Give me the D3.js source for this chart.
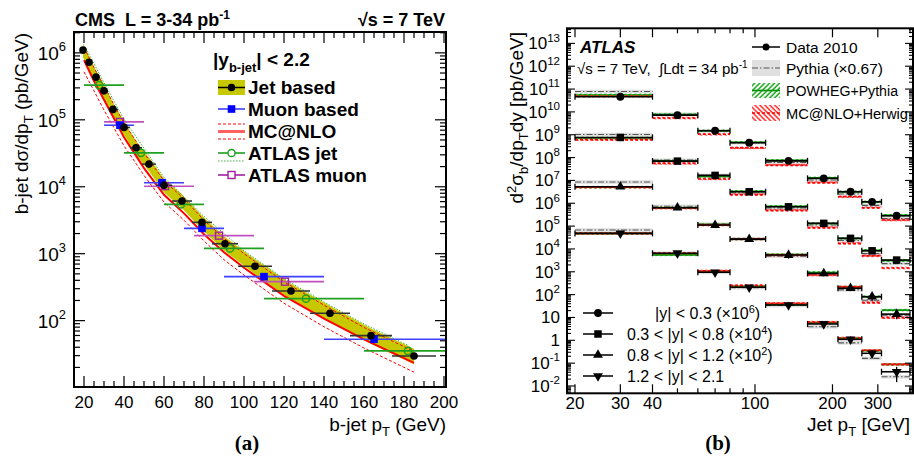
<!DOCTYPE html>
<html><head><meta charset="utf-8">
<script src="https://cdn.jsdelivr.net/npm/d3@7"></script>
<style>body{margin:0;background:#fff}svg{display:block}text{font-family:"Liberation Sans",Arial,sans-serif;fill:#000;white-space:pre}</style>
</head><body><svg id="c" width="914" height="457"></svg>
<script>
// ---------------- Panel (a) data ----------------
const jetPt  = [19.5,22.5,26,30,34.5,40,46,52.5,60,69,79,90.5,105.5,123.5,143,163.5,185];
const jetLo  = [18,21,24,28,32,37,43,49,56,64,74,84,97,114,133,153,174];
const jetHi  = [21,24,28,32,37,43,49,56,64,74,84,97,114,133,153,174,196];
const jetVal = [1.1e6,7.26e5,4.34e5,2.71e5,1.43e5,7.7e4,3.82e4,2.18e4,1.05e4,6.12e3,2.94e3,1.41e3,649,277,129,59.7,29.7];
const jetSysUp = [1.25,1.25,1.25,1.25,1.25,1.25,1.25,1.25,1.25,1.25,1.25,1.26,1.27,1.28,1.28,1.28,1.28];
const jetSysDn = [0.78,0.78,0.78,0.78,0.78,0.78,0.78,0.78,0.78,0.78,0.78,0.77,0.76,0.75,0.75,0.75,0.75];

const muPt  = [38,59,79,110,165];
const muLo  = [30,50,70,90,140];
const muHi  = [45,70,90,140,260];
const muVal = [8.3e4,1.15e4,2.39e3,454,52.7];

const atjPt  = [27.5,48.5,68.5,93,131,182];
const atjLo  = [20,40,60,80,110,160];
const atjHi  = [40,60,80,110,160,210];
const atjVal = [3.3e5,3.21e4,5.46e3,1.2e3,213,35.3];
const atjDotPt  = [21,30,40,60,80,100,120,140,160,182];
const atjDotVal = [1.17e6,3.57e5,1.02e5,1.38e4,3.6e3,1.11e3,421,190,89,42.7];

const atmPt  = [38,60.5,87.5,120.5];
const atmLo  = [30,50,75,105];
const atmHi  = [50,75,105,140];
const atmVal = [9.3e4,1.02e4,1.86e3,382];

const mcPt      = [20,25,30,40,50,60,70,80,90,100,120,140,160,185];
const mcCentral = [7.8e5,3.8e5,2.0e5,5.5e4,1.9e4,7.6e3,4.0e3,1.95e3,1.05e3,617,234,107,52.5,23.4];
const mcUp      = [1.2e6,6.0e5,3.2e5,8.9e4,3.2e4,1.23e4,6.6e3,3.16e3,1.7e3,1.0e3,380,170,79,34.7];
const mcDn      = [5.2e5,2.7e5,1.4e5,4.1e4,1.48e4,5.9e3,3.16e3,1.55e3,813,479,182,81,39,17];

const xTicksA = [20,40,60,80,100,120,140,160,180,200];
const yTicksA = [2,3,4,5,6];

// ---------------- Panel (b) data ----------------
const bEdges   = [20,40,60,80,110,160,210,260,310,400];
const bCenters = [30,50,70,95,135,185,235,285,355];
const serY1 = [4.6e10,7.2e9,1.49e9,4.45e8,7.2e7,1.23e7,3.19e6,1.16e6,2.84e5];
const serY2 = [7.6e8,7.0e7,1.66e7,3.19e6,7.0e5,1.32e5,2.91e4,8.3e3,3.26e3];
const serY3 = [5.3e6,6.4e5,1.11e5,2.7e4,5.4e3,850,190,81,14];
const serY4 = [4.8e4,6.5e3,950,210,35,5.2,1.1,0.27,0.042];
const errY1 = [0.12,0.12,0.12,0.12,0.12,0.15,0.18,0.2,0.2];
const errY2 = [0.12,0.12,0.12,0.12,0.15,0.2,0.2,0.25,0.25];
const errY3 = [0.15,0.15,0.15,0.15,0.3,0.25,0.25,0.35,0.4];
const errY4 = [0.3,0.2,0.15,0.15,0.3,0.3,0.35,0.4,0.65];
const pyR1 = [1.7,1.1,1.0,1.0,0.85,0.85,0.8,0.7,0.75];
const pyR2 = [1.35,1.1,1.0,0.9,0.9,0.85,0.8,0.75,0.7];
const pyR3 = [1.6,1.15,1.1,1.0,0.9,0.9,0.85,0.7,0.9];
const pyR4 = [1.4,1.0,1.0,0.95,0.95,0.75,0.7,0.6,0.6];
const pwR1 = [1.2,1.05,1.0,1.05,1.05,1.05,1.0,1.0,1.05];
const pwR2 = [0.95,1.0,0.9,1.05,1.05,1.0,1.0,1.05,0.95];
const pwR3 = [0.95,1.0,1.05,1.0,1.05,1.1,1.15,1.0,1.5];
const pwR4 = [1.0,0.85,1.05,1.1,1.1,1.15,1.1,1.3,2.1];
const mcR1 = [1.05,0.75,0.7,0.6,0.65,0.65,0.6,0.55,0.65];
const mcR2 = [0.8,0.8,0.7,0.75,0.7,0.65,0.6,0.6,0.45];
const mcR3 = [0.95,0.95,1.0,1.0,1.0,0.85,1.15,0.55,0.7];
const mcR4 = [1.0,1.0,1.15,1.2,1.2,1.2,1.15,1.35,2.1];
const seriesLabels = [["|y| < 0.3 (×10","6",")"],["0.3 < |y| < 0.8 (×10","4",")"],["0.8 < |y| < 1.2 (×10","2",")"],["1.2 < |y| < 2.1","",""]];
const xTicksB = [20,30,40,50,60,70,80,90,100,200,300,400];
const xLabelsB = [20,30,40,100,200,300];

// ---------------- drawing ----------------
const svg = d3.select("#c");
const defs = svg.append("defs");
function hatch(id,color,angle){
  const p = defs.append("pattern").attr("id",id).attr("patternUnits","userSpaceOnUse")
    .attr("width",3.5).attr("height",3.5).attr("patternTransform",`rotate(${angle})`);
  p.append("line").attr("x1",1).attr("y1",0).attr("x2",1).attr("y2",3.5).attr("stroke",color).attr("stroke-width",1.4);
}
hatch("hG","#10a010",45); hatch("hR","#ff2020",-45);
defs.append("clipPath").attr("id","clipA").append("rect").attr("x",74).attr("y",32).attr("width",372).attr("height",355);
defs.append("clipPath").attr("id","clipB").append("rect").attr("x",567).attr("y",28).attr("width",346).attr("height",365);

function pow10(g,x,y,k,fs,anchor){
  const t = g.append("text").attr("x",x).attr("y",y).attr("text-anchor",anchor||"end").attr("font-size",fs);
  t.append("tspan").text("10");
  t.append("tspan").attr("dy",-fs*0.45).attr("font-size",fs*0.68).text(k);
  return t;
}
function line(g,x1,y1,x2,y2,stroke,w,dash){
  const l = g.append("line").attr("x1",x1).attr("y1",y1).attr("x2",x2).attr("y2",y2)
    .attr("stroke",stroke).attr("stroke-width",w||1);
  if(dash) l.attr("stroke-dasharray",dash);
  return l;
}

// ===== Panel A =====
const xA = d3.scaleLinear().domain([15,201]).range([74,446]);
const yA = d3.scaleLog().domain([10.2,2.05e6]).range([387,32]);
const gA = svg.append("g").attr("clip-path","url(#clipA)");

const bandA = d3.area().x(i=>xA(jetPt[i])).y0(i=>yA(jetVal[i]*jetSysDn[i])).y1(i=>yA(jetVal[i]*jetSysUp[i]));
gA.append("path").attr("d",bandA(d3.range(jetPt.length))).attr("fill","#c8c800");

const lineMC = arr => d3.line().x(i=>xA(mcPt[i])).y(i=>yA(arr[i]))(d3.range(mcPt.length));
gA.append("path").attr("d",lineMC(mcUp)).attr("fill","none").attr("stroke","#ff0000").attr("stroke-width",1).attr("stroke-dasharray","3,2");
gA.append("path").attr("d",lineMC(mcDn)).attr("fill","none").attr("stroke","#ff0000").attr("stroke-width",1).attr("stroke-dasharray","3,2");
gA.append("path").attr("d",lineMC(mcCentral)).attr("fill","none").attr("stroke","#ff0000").attr("stroke-width",2);

gA.append("path").attr("d",d3.line().x(i=>xA(atjDotPt[i])).y(i=>yA(atjDotVal[i]))(d3.range(atjDotPt.length)))
  .attr("fill","none").attr("stroke","#40b040").attr("stroke-width",1).attr("stroke-dasharray","1.5,1.5");

atjPt.forEach((p,i)=>{ line(gA,xA(atjLo[i]),yA(atjVal[i]),xA(atjHi[i]),yA(atjVal[i]),"#20a020",1.6); });
atmPt.forEach((p,i)=>{ line(gA,xA(atmLo[i]),yA(atmVal[i]),xA(atmHi[i]),yA(atmVal[i]),"#c050c0",1.6); });
muPt.forEach((p,i)=>{ line(gA,xA(muLo[i]),yA(muVal[i]),xA(muHi[i]),yA(muVal[i]),"#4040ff",1.6); });
jetPt.forEach((p,i)=>{ line(gA,xA(jetLo[i]),yA(jetVal[i]),xA(jetHi[i]),yA(jetVal[i]),"#333",1.6); });
atjPt.forEach((p,i)=>{ gA.append("circle").attr("cx",xA(p)).attr("cy",yA(atjVal[i])).attr("r",3.6).attr("fill","none").attr("stroke","#20a020").attr("stroke-width",1.5); });
atmPt.forEach((p,i)=>{ gA.append("rect").attr("x",xA(p)-3.5).attr("y",yA(atmVal[i])-3.5).attr("width",7).attr("height",7).attr("fill","none").attr("stroke","#a020a0").attr("stroke-width",1.4); });
muPt.forEach((p,i)=>{ gA.append("rect").attr("x",xA(p)-3.8).attr("y",yA(muVal[i])-3.8).attr("width",7.6).attr("height",7.6).attr("fill","#0000ff"); });
jetPt.forEach((p,i)=>{ gA.append("circle").attr("cx",xA(p)).attr("cy",yA(jetVal[i])).attr("r",3.8).attr("fill","#000"); });

const axA = svg.append("g");
for(let v=20; v<=200; v+=5){
  const L = v%20===0 ? 11 : 6;
  line(axA,xA(v),387,xA(v),387-L,"#000",1.2);
  line(axA,xA(v),32,xA(v),32+L,"#000",1.2);
}
for(let k=1;k<=6;k++){
  for(let m=1;m<=9;m++){
    const v = m*Math.pow(10,k);
    if(v<10.2||v>2.05e6) continue;
    const L = m===1?11:6;
    line(axA,74,yA(v),74+L,yA(v),"#000",1.2);
    line(axA,446,yA(v),446-L,yA(v),"#000",1.2);
  }
}
axA.append("rect").attr("x",74).attr("y",32).attr("width",372).attr("height",355).attr("fill","none").attr("stroke","#000").attr("stroke-width",2);
xTicksA.forEach(v=>{ axA.append("text").attr("x",xA(v)).attr("y",408).attr("text-anchor","middle").attr("font-size",17).text(v); });
yTicksA.forEach(k=>{ pow10(axA,66,yA(Math.pow(10,k))+7,k,19,"end"); });

svg.append("text").attr("x",75).attr("y",26).attr("font-size",18).attr("font-weight","bold")
  .call(t=>{ t.append("tspan").text("CMS  L = 3-34 pb"); t.append("tspan").attr("dy",-7).attr("font-size",12).text("-1"); });
svg.append("text").attr("x",445).attr("y",26).attr("font-size",18).attr("font-weight","bold").attr("text-anchor","end").text("√s = 7 TeV");
svg.append("text").attr("transform","translate(28,33) rotate(-90)").attr("text-anchor","end").attr("font-size",19)
  .call(t=>{ t.append("tspan").text("b-jet dσ/dp"); t.append("tspan").attr("dy",5).attr("font-size",13).text("T"); t.append("tspan").attr("dy",-5).text(" (pb/GeV)"); });
svg.append("text").attr("x",446).attr("y",431).attr("text-anchor","end").attr("font-size",19)
  .call(t=>{ t.append("tspan").text("b-jet p"); t.append("tspan").attr("dy",5).attr("font-size",13).text("T"); t.append("tspan").attr("dy",-5).text(" (GeV)"); });
svg.append("text").attr("x",247).attr("y",450).attr("text-anchor","middle").attr("font-size",21).attr("font-weight","bold")
  .style("font-family","'Liberation Serif','Times New Roman',serif").text("(a)");

const lgA = svg.append("g");
lgA.append("text").attr("x",213).attr("y",66).attr("font-size",19).attr("font-weight","bold")
  .call(t=>{ t.append("tspan").text("|y"); t.append("tspan").attr("dy",6).attr("font-size",13).text("b-jet"); t.append("tspan").attr("dy",-6).text("| < 2.2"); });
const lgRows = [["Jet based",87],["Muon based",109],["MC@NLO",131],["ATLAS jet",153],["ATLAS muon",175]];
lgRows.forEach(r=>{ lgA.append("text").attr("x",248).attr("y",r[1]+7).attr("font-size",19).attr("font-weight","bold").text(r[0]); });
lgA.append("rect").attr("x",218).attr("y",80).attr("width",27).attr("height",15).attr("fill","#c8c800");
line(lgA,218,87.5,245,87.5,"#000",1.5); lgA.append("circle").attr("cx",231.5).attr("cy",87.5).attr("r",3.8).attr("fill","#000");
line(lgA,218,109,245,109,"#4040ff",1.6); lgA.append("rect").attr("x",227.7).attr("y",105.2).attr("width",7.6).attr("height",7.6).attr("fill","#0000ff");
line(lgA,218,124,245,124,"#ff0000",1,"3,2"); line(lgA,218,131.5,245,131.5,"#ff6060",3); line(lgA,218,139,245,139,"#ff0000",1,"3,2");
line(lgA,218,153,245,153,"#20a020",1.6); lgA.append("circle").attr("cx",231.5).attr("cy",153).attr("r",3.6).attr("fill","#fff").attr("stroke","#20a020").attr("stroke-width",1.5);
line(lgA,218,161,245,161,"#40b040",1,"1.5,1.5");
line(lgA,218,175,245,175,"#a020a0",1.6); lgA.append("rect").attr("x",228).attr("y",171.5).attr("width",7).attr("height",7).attr("fill","#fff").attr("stroke","#a020a0").attr("stroke-width",1.4);

// ===== Panel B =====
const xB = d3.scaleLog().domain([18.62,410.9]).range([567,913]);
const yB = d3.scaleLog().domain([Math.pow(10,-2.32),Math.pow(10,13.66)]).range([393.3,28.3]);
const gB = svg.append("g").attr("clip-path","url(#clipB)");
const series = [serY1,serY2,serY3,serY4];
const errs = [errY1,errY2,errY3,errY4];
const pyR = [pyR1,pyR2,pyR3,pyR4], pwR=[pwR1,pwR2,pwR3,pwR4], mcR=[mcR1,mcR2,mcR3,mcR4];
const symTypes = [d3.symbolCircle,d3.symbolSquare,d3.symbolTriangle,d3.symbolTriangle];
const symSizes = [48,56,42,42];
function marker(g,s,x,y){
  return g.append("path").attr("d",d3.symbol().type(symTypes[s]).size(symSizes[s])())
    .attr("transform",`translate(${x},${y})`+(s===3?" rotate(180)":"")).attr("fill","#000");
}
series.forEach((ser,s)=>{
  ser.forEach((v,i)=>{
    const x0 = xB(bEdges[i]), x1 = xB(bEdges[i+1]);
    const p = v*pyR[s][i], w = v*pwR[s][i], m = v*mcR[s][i];
    gB.append("rect").attr("x",x0).attr("width",x1-x0).attr("y",yB(p*1.2)).attr("height",yB(p/1.2)-yB(p*1.2)).attr("fill","#e0e0e0");
    line(gB,x0,yB(p),x1,yB(p),"#555",1.1,"6,2,1.5,2");
    gB.append("rect").attr("x",x0).attr("width",x1-x0).attr("y",yB(w*1.14)).attr("height",yB(w/1.14)-yB(w*1.14)).attr("fill","url(#hG)");
    line(gB,x0,yB(w),x1,yB(w),"#009000",1.6);
    gB.append("rect").attr("x",x0).attr("width",x1-x0).attr("y",yB(m*1.14)).attr("height",yB(m/1.14)-yB(m*1.14)).attr("fill","url(#hR)");
    line(gB,x0,yB(m),x1,yB(m),"#ff0000",1.6,"3,2");
  });
});
series.forEach((ser,s)=>{
  ser.forEach((v,i)=>{
    const x0 = xB(bEdges[i]), x1 = xB(bEdges[i+1]), y = yB(v), xc = xB(bCenters[i]);
    line(gB,x0,y,x1,y,"#000",1.6);
    line(gB,x0,y-3,x0,y+3,"#000",1.3); line(gB,x1,y-3,x1,y+3,"#000",1.3);
    line(gB,xc,yB(v*(1+errs[s][i])),xc,yB(v*Math.max(0.05,1-errs[s][i])),"#000",1.3);
    marker(gB,s,xc,y);
  });
});

const axB = svg.append("g");
xTicksB.forEach(v=>{
  const L = xLabelsB.includes(v)?9:5;
  line(axB,xB(v),393.3,xB(v),393.3-L,"#000",1.2);
  line(axB,xB(v),28.3,xB(v),28.3+L,"#000",1.2);
});
for(let k=-3;k<=13;k++){
  for(let mm=1;mm<=9;mm++){
    const v = mm*Math.pow(10,k);
    const yy = yB(v);
    if(yy<28.3||yy>393.3) continue;
    const L = mm===1?8:4;
    line(axB,567,yy,567+L,yy,"#000",1.1);
    line(axB,913,yy,913-L,yy,"#000",1.1);
  }
}
axB.append("rect").attr("x",567).attr("y",28.3).attr("width",346).attr("height",365).attr("fill","none").attr("stroke","#000").attr("stroke-width",2);
xLabelsB.forEach(v=>{ axB.append("text").attr("x",xB(v)).attr("y",409).attr("text-anchor","middle").attr("font-size",17).text(v); });
for(let k=-2;k<=13;k++){
  const yy = yB(Math.pow(10,k))+6;
  if(k===0) axB.append("text").attr("x",560).attr("y",yy).attr("text-anchor","end").attr("font-size",17).text("1");
  else if(k===1) axB.append("text").attr("x",560).attr("y",yy).attr("text-anchor","end").attr("font-size",17).text("10");
  else pow10(axB,560,yy,k,17,"end");
}

svg.append("text").attr("x",580).attr("y",53).attr("font-size",17).attr("font-weight","bold").attr("font-style","italic").text("ATLAS");
svg.append("text").attr("x",577).attr("y",74).attr("font-size",15)
  .call(t=>{ t.append("tspan").text("√s = 7 TeV,  ∫Ldt = 34 pb"); t.append("tspan").attr("dy",-6).attr("font-size",10).text("-1"); });
svg.append("text").attr("transform","translate(523,32) rotate(-90)").attr("text-anchor","end").attr("font-size",19)
  .call(t=>{ t.append("tspan").text("d"); t.append("tspan").attr("dy",-7).attr("font-size",13).text("2");
    t.append("tspan").attr("dy",7).text("σ"); t.append("tspan").attr("dy",5).attr("font-size",13).text("b");
    t.append("tspan").attr("dy",-5).text("/dp"); t.append("tspan").attr("dy",5).attr("font-size",13).text("T");
    t.append("tspan").attr("dy",-5).text("dy [pb/GeV]"); });
svg.append("text").attr("x",807).attr("y",431).attr("font-size",19)
  .call(t=>{ t.append("tspan").text("Jet p"); t.append("tspan").attr("dy",5).attr("font-size",13).text("T"); t.append("tspan").attr("dy",-5).text(" [GeV]"); });
svg.append("text").attr("x",718).attr("y",450).attr("text-anchor","middle").attr("font-size",21).attr("font-weight","bold")
  .style("font-family","'Liberation Serif','Times New Roman',serif").text("(b)");

const lgB = svg.append("g");
[["Data 2010",47,0],["Pythia (×0.67)",68,0],["POWHEG+Pythia",90,112],["MC@NLO+Herwig",113,122]].forEach(r=>{
  const t = lgB.append("text").attr("x",786).attr("y",r[1]+6).attr("font-size",15.5).text(r[0]);
  if(r[2]) t.attr("textLength",r[2]).attr("lengthAdjust","spacingAndGlyphs"); });
line(lgB,752,47,780,47,"#000",1.5); lgB.append("circle").attr("cx",766).attr("cy",47).attr("r",3.5).attr("fill","#000");
lgB.append("rect").attr("x",752).attr("y",60).attr("width",28).attr("height",16).attr("fill","#e0e0e0");
line(lgB,752,68,780,68,"#555",1.2,"6,2,1.5,2");
lgB.append("rect").attr("x",752).attr("y",83).attr("width",28).attr("height",15).attr("fill","url(#hG)");
line(lgB,752,90.5,780,90.5,"#009000",1.6);
lgB.append("rect").attr("x",752).attr("y",105).attr("width",28).attr("height",16).attr("fill","url(#hR)");
line(lgB,752,113,780,113,"#ff0000",1.6,"3,2");

const rowsY = [313,334,355,376];
seriesLabels.forEach((lab,s)=>{
  const y = rowsY[s];
  line(lgB,583,y,613,y,"#000",1.5);
  marker(lgB,s,598,y);
  const t = lgB.append("text").attr("x",s===0?655:627).attr("y",y+6).attr("font-size",16);
  t.append("tspan").text(lab[0]);
  if(lab[1]){ t.append("tspan").attr("dy",-6).attr("font-size",11).text(lab[1]); t.append("tspan").attr("dy",6).text(lab[2]); }
});
</script></body></html>
